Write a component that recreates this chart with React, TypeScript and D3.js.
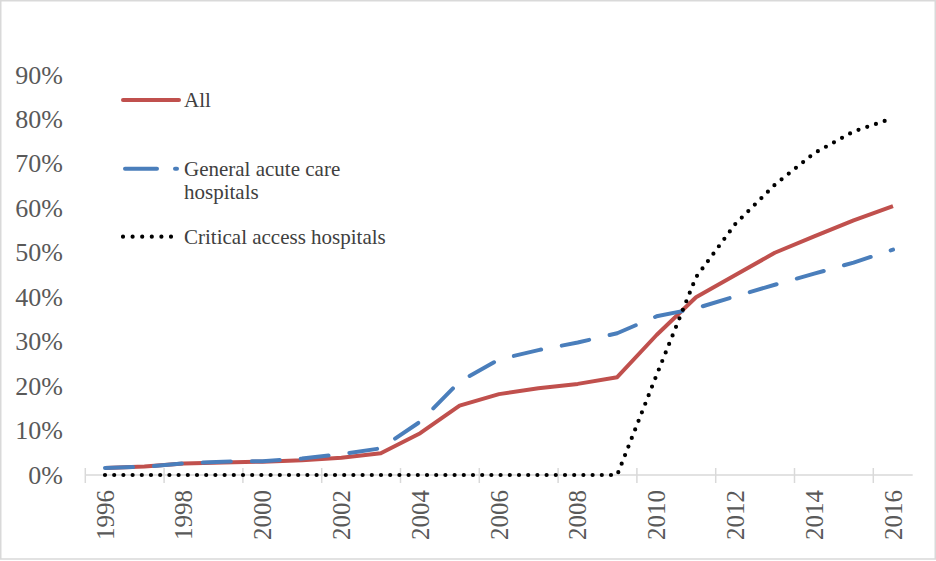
import React from "react";
import * as d3 from "d3";

const years = [
  "1996", "1997", "1998", "1999", "2000", "2001", "2002", "2003", "2004", "2005", "2006",
  "2007", "2008", "2009", "2010", "2011", "2012", "2013", "2014", "2015", "2016",
];
const allHospitals = [
  1.6, 1.9, 2.6, 2.8, 3.0, 3.3, 3.9, 4.9, 9.4, 15.6, 18.2,
  19.5, 20.5, 22.0, 31.5, 40.0, 45.0, 50.0, 53.7, 57.3, 60.5,
];
const generalAcute = [
  1.6, 1.85, 2.6, 3.0, 3.1, 3.7, 4.7, 6.0, 12.0, 21.0, 26.0,
  28.1, 29.8, 31.9, 35.7, 37.5, 40.2, 42.8, 45.3, 47.8, 50.7,
];
const criticalAccess = [
  0, 0, 0, 0, 0, 0, 0, 0, 0, 0, 0,
  0, 0, 0, 22.5, 44.5, 56.5, 65.3, 72.4, 77.3, 80.3,
];
const yTicks = [0, 10, 20, 30, 40, 50, 60, 70, 80, 90];
const seriesNames = ["All", "General acute care hospitals", "Critical access hospitals"];

const W = 936;
const H = 561;
const RED = "#C0504D";
const BLUE = "#4A7EBB";
const BLACK = "#000000";
const GRAY_TEXT = "#595959";
const AXIS = "#D9D9D9";
const FONT = "'Liberation Serif', 'Times New Roman', serif";

export default function App() {
  const x = d3.scaleBand<string>().domain(years).range([85.3, 912.7]).paddingInner(0).paddingOuter(0);
  const bw = x.bandwidth();
  const cx = (yr: string) => (x(yr) as number) + bw / 2;
  const y = d3.scaleLinear().domain([0, 90]).range([475, 75]);

  const line = d3
    .line<number>()
    .x((_, i) => cx(years[i]))
    .y((d) => y(d))
    .curve(d3.curveLinear);

  const evenYears = years.filter((_, i) => i % 2 === 0);

  return (
    <svg
      width={W}
      height={H}
      style={{ position: "fixed", left: 0, top: 0, background: "#fff" }}
      fontFamily={FONT}
    >
      <rect x={0.75} y={0.75} width={W - 1.5} height={559 - 0.75} fill="#fff" stroke={AXIS} strokeWidth={1.5} />

      {/* y tick labels */}
      {yTicks.map((t) => (
        <text key={t} x={63} y={y(t)} textAnchor="end" dominantBaseline="central" fontSize={26} fill={GRAY_TEXT}>
          {t}%
        </text>
      ))}

      {/* x axis line and ticks */}
      <line x1={x.range()[0]} x2={x.range()[1]} y1={y(0)} y2={y(0)} stroke={AXIS} strokeWidth={1.5} />
      {evenYears.map((yr) => (
        <line key={"t" + yr} x1={x(yr)} x2={x(yr)} y1={y(0) - 7} y2={y(0) + 8} stroke={AXIS} strokeWidth={1.5} />
      ))}
      {evenYears.map((yr) => (
        <text
          key={"l" + yr}
          transform={`translate(${cx(yr)},490) rotate(-90)`}
          textAnchor="end"
          dominantBaseline="central"
          fontSize={25}
          fill={GRAY_TEXT}
        >
          {yr}
        </text>
      ))}

      {/* series */}
      <path d={line(allHospitals) || ""} fill="none" stroke={RED} strokeWidth={4} strokeLinejoin="round" />
      <path
        d={line(generalAcute) || ""}
        fill="none"
        stroke={BLUE}
        strokeWidth={4}
        strokeDasharray="28 21"
        strokeLinecap="round"
        strokeLinejoin="round"
      />
      <path
        d={line(criticalAccess) || ""}
        fill="none"
        stroke={BLACK}
        strokeWidth={4.2}
        strokeDasharray="0 9.2"
        strokeLinecap="round"
        strokeLinejoin="round"
      />

      {/* legend */}
      <line x1={123} x2={179} y1={100} y2={100} stroke={RED} strokeWidth={4} strokeLinecap="round" />
      <text x={184} y={107} fontSize={21} fill="#404040">{seriesNames[0]}</text>

      <line x1={125} x2={177} y1={168.7} y2={168.7} stroke={BLUE} strokeWidth={4} strokeDasharray="32 18" strokeLinecap="round" />
      <text x={184} y={176} fontSize={21} fill="#404040">General acute care</text>
      <text x={184} y={199} fontSize={21} fill="#404040">hospitals</text>

      <line x1={123} x2={172} y1={236.7} y2={236.7} stroke={BLACK} strokeWidth={4.2} strokeDasharray="0 9.6" strokeLinecap="round" />
      <text x={184} y={244} fontSize={21} fill="#404040">{seriesNames[2]}</text>
    </svg>
  );
}
